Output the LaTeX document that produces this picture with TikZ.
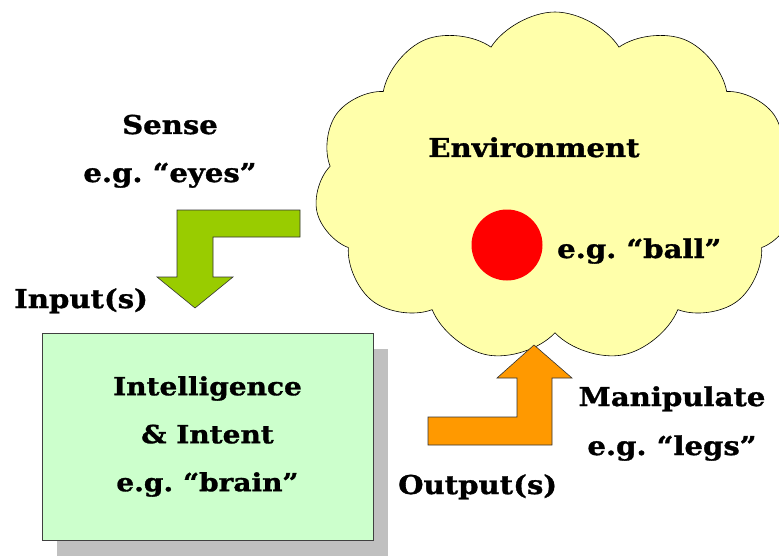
\documentclass[tikz,border=0pt]{standalone}
\usepackage{fontspec}
\setmainfont[BoldFeatures={FakeStretch=1.12,FakeBold=1.2}]{DejaVu Serif}
\usetikzlibrary{shapes.symbols,shadows}
\frenchspacing

\definecolor{cloudyellow}{HTML}{FFFFAA}
\definecolor{braingreen}{HTML}{CCFFCC}
\definecolor{sensegreen}{HTML}{99CC00}
\definecolor{actorange}{HTML}{FF9900}
\definecolor{shadowgray}{HTML}{C0C0C0}

\begin{document}
\begin{tikzpicture}[x=1pt,y=-1pt,
  lbl/.style={font=\bfseries\fontsize{26}{30}\selectfont, inner sep=0pt, anchor=base},
  blockarrow/.style={draw=black!80, line width=0.6pt, line join=miter}]
\useasboundingbox (0,0) rectangle (779,559);

% the world
\node (env) [cloud, cloud puffs=11, cloud puff arc=115, draw, line width=0.6pt,
  fill=cloudyellow, minimum width=481, minimum height=350, inner sep=0pt] at (555,187) {};
\node (envlbl) [lbl] at (534,157) {Environment};
\node (ball) [circle, fill=red, minimum size=71, inner sep=0pt] at (507,245) {};
\node (balllbl) [lbl, anchor=base west] at (557,258) {e.g. “ball”};

% sense side
\node (sense) [lbl] at (170,134) {Sense};
\node (eyes) [lbl] at (170,182) {e.g. “eyes”};
\fill[blockarrow, fill=sensegreen]
  (300,210) -- (300,237) -- (213,237) -- (213,277) -- (233,277) -- (195,308)
  -- (157,277) -- (177,277) -- (177,210) -- cycle;
\node (input) [lbl, anchor=base west] at (14,308) {Input(s)};

% the agent
\node (brain) [draw=black!75, line width=0.8pt, fill=braingreen, minimum width=331, minimum height=207,
  align=center, font=\bfseries\fontsize{25}{48}\selectfont,
  drop shadow={shadow xshift=15pt, shadow yshift=-16pt, fill=shadowgray, opacity=1}]
  at (207.5,436.5) {Intelligence\\\& Intent\\e.g. “brain”};

% act side
\fill[blockarrow, fill=actorange]
  (428,417) -- (517,417) -- (517,378) -- (497,378) -- (534,345) -- (572,378)
  -- (552,378) -- (552,445) -- (428,445) -- cycle;
\node (manip) [lbl] at (672,406) {Manipulate};
\node (legs) [lbl] at (672,455) {e.g. “legs”};
\node (output) [lbl, anchor=base west] at (398,494) {Output(s)};
\end{tikzpicture}
\end{document}
